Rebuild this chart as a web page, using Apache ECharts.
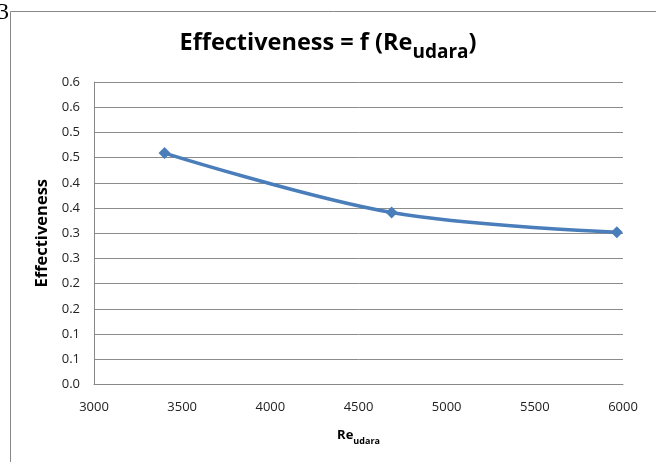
<!DOCTYPE html>
<html>
<head>
<meta charset="utf-8">
<script src="https://cdn.jsdelivr.net/npm/echarts@6/dist/echarts.min.js"></script>
<style>html,body{margin:0;padding:0;background:#fff;}#c{width:656px;height:462px;}</style>
</head>
<body>
<div id="c"></div>
<script>
const reUdara = [3400, 4688, 5965];
const effectiveness = [0.459, 0.341, 0.302];
const yTickLabels = ['0.0','0.1','0.1','0.2','0.2','0.3','0.3','0.4','0.4','0.5','0.5','0.6','0.6'];
const xTickLabels = ['3000','3500','4000','4500','5000','5500','6000'];

const chart = echarts.init(document.getElementById('c'));
const fontFam = '"Open Sans", "Liberation Sans", sans-serif';
chart.setOption({
  animation: false,
  title: {
    text: '{m|Effectiveness = f (Re}{s|udara}{m|)}',
    left: 'center',
    top: 26,
    textStyle: {
      rich: {
        m: { fontFamily: fontFam, fontWeight: 'bold', fontSize: 23.5, color: '#000', verticalAlign: 'bottom', padding: [0, 0, 7, 0] },
        s: { fontFamily: fontFam, fontWeight: 'bold', fontSize: 19, color: '#000', verticalAlign: 'bottom' }
      }
    }
  },
  grid: { left: 94, right: 33, top: 82, bottom: 77.5 },
  xAxis: {
    type: 'value', min: 3000, max: 6000, interval: 500,
    name: '{m|Re}{s|udara}', nameLocation: 'middle', nameGap: 44,
    nameTextStyle: {
      rich: {
        m: { fontFamily: fontFam, fontWeight: 'bold', fontSize: 13, color: '#000', verticalAlign: 'bottom', padding: [0, 0, 4, 0] },
        s: { fontFamily: fontFam, fontWeight: 'bold', fontSize: 9, color: '#000', verticalAlign: 'bottom' }
      }
    },
    axisLine: { lineStyle: { color: '#888', width: 1 } },
    axisTick: { show: false },
    splitLine: { show: false },
    axisLabel: {
      fontFamily: fontFam, fontSize: 13, color: '#222', margin: 16,
      formatter: v => xTickLabels[Math.round((v - 3000) / 500)]
    }
  },
  yAxis: {
    type: 'value', min: 0, max: 0.6, interval: 0.05,
    name: 'Effectiveness', nameLocation: 'middle', nameGap: 43,
    nameTextStyle: { fontFamily: fontFam, fontWeight: 'bold', fontSize: 16.5, color: '#000' },
    axisLine: { show: true, lineStyle: { color: '#888', width: 1 } },
    axisTick: { show: false },
    splitLine: { lineStyle: { color: '#8c8c8c', width: 1 } },
    axisLabel: {
      fontFamily: fontFam, fontSize: 13, color: '#222', margin: 14,
      formatter: v => yTickLabels[Math.round(v / 0.05)]
    }
  },
  graphic: [
    { type: 'line', shape: { x1: 10.5, y1: 11.5, x2: 656, y2: 11.5 }, style: { stroke: '#888', lineWidth: 1 } },
    { type: 'line', shape: { x1: 10.5, y1: 11.5, x2: 10.5, y2: 462 }, style: { stroke: '#888', lineWidth: 1 } },
    { type: 'text', left: -3, top: 1, style: { text: '3', fontFamily: '"Liberation Serif", serif', fontSize: 24, fill: '#000' } }
  ],
  series: [{
    type: 'line',
    data: reUdara.map((x, i) => [x, effectiveness[i]]),
    smooth: 0.35,
    symbol: 'diamond',
    symbolSize: 12,
    lineStyle: { color: '#4a7ebb', width: 3.5 },
    itemStyle: { color: '#4a7ebb' }
  }]
});
</script>
</body>
</html>
